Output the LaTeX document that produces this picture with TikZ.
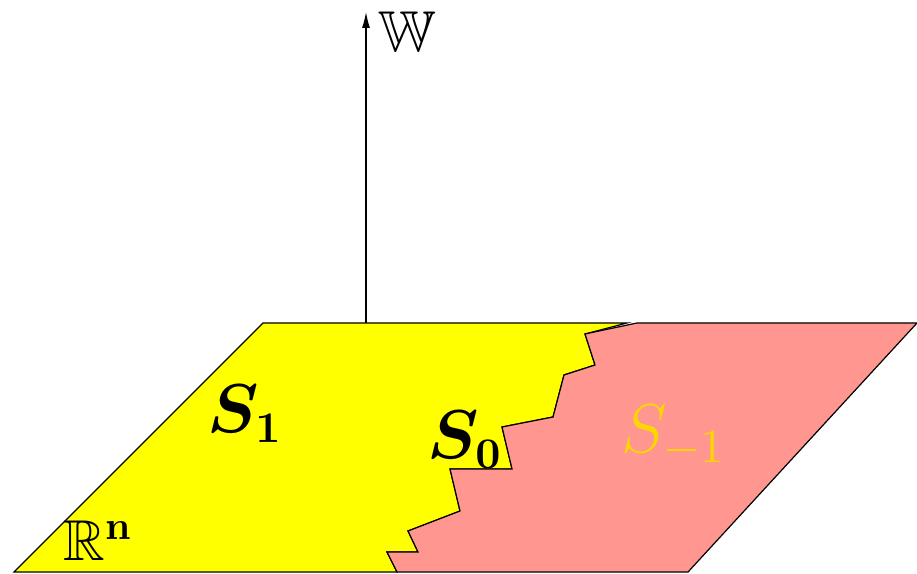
\documentclass[tikz,border=0pt]{standalone}
\usepackage{amsmath,amssymb,bm}
\usepackage{xcolor}
\usepackage{tikz}
\usetikzlibrary{arrows.meta,positioning}
\definecolor{Sun}{HTML}{FFFF00}
\definecolor{Rose}{HTML}{FF9690}
\definecolor{Gold}{HTML}{FFD700}
\tikzset{
  region/.style={draw=black,line width=0.3pt,line join=miter},
  axis/.style={-{Latex[length=4pt,width=2pt]},line width=0.3pt},
  lbl/.style={font=\Large,inner sep=0pt},
  setlbl/.style={font=\fontsize{16}{19}\selectfont,inner sep=0pt}
}

\begin{document}
\begin{tikzpicture}[x=0.25pt,y=-0.25pt]
  \useasboundingbox (0,0) rectangle (917,574);
  % upper region S_1
  \filldraw[region,fill=Sun] (14,572) -- (263,323) -- (627,323) -- (585,334)
    -- (595,365) -- (564,375) -- (553,417) -- (502,427) -- (512,469)
    -- (450,469) -- (460,511) -- (408,531) -- (418,552) -- (387,552)
    -- (397,572) -- cycle;
  % lower region S_-1
  \filldraw[region,fill=Rose] (397,572) -- (387,552) -- (418,552) -- (408,531)
    -- (460,511) -- (450,469) -- (512,469) -- (502,427) -- (553,417)
    -- (564,375) -- (595,365) -- (585,334) -- (637,323) -- (917,323)
    -- (688,572) -- cycle;

  \coordinate (base) at (366,323);
  \coordinate (tip) at (366,12);
  \draw[axis] (base) -- (tip);
  \node[lbl] (wlabel) at (407,32) {$\mathbb{W}$};

  \node[setlbl] (sone) at (245,414) {$\bm{S}_{\bm{1}}$};
  \node[setlbl] (szero) at (465,440) {$\bm{S}_{\bm{0}}$};
  \node[setlbl,font=\LARGE,text=Gold] (sminus) at (674,436) {$S_{-1}$};
  \node[lbl] (rn) at (98,541) {$\mathbb{R}^{\mathbf{n}}$};
\end{tikzpicture}
\end{document}
